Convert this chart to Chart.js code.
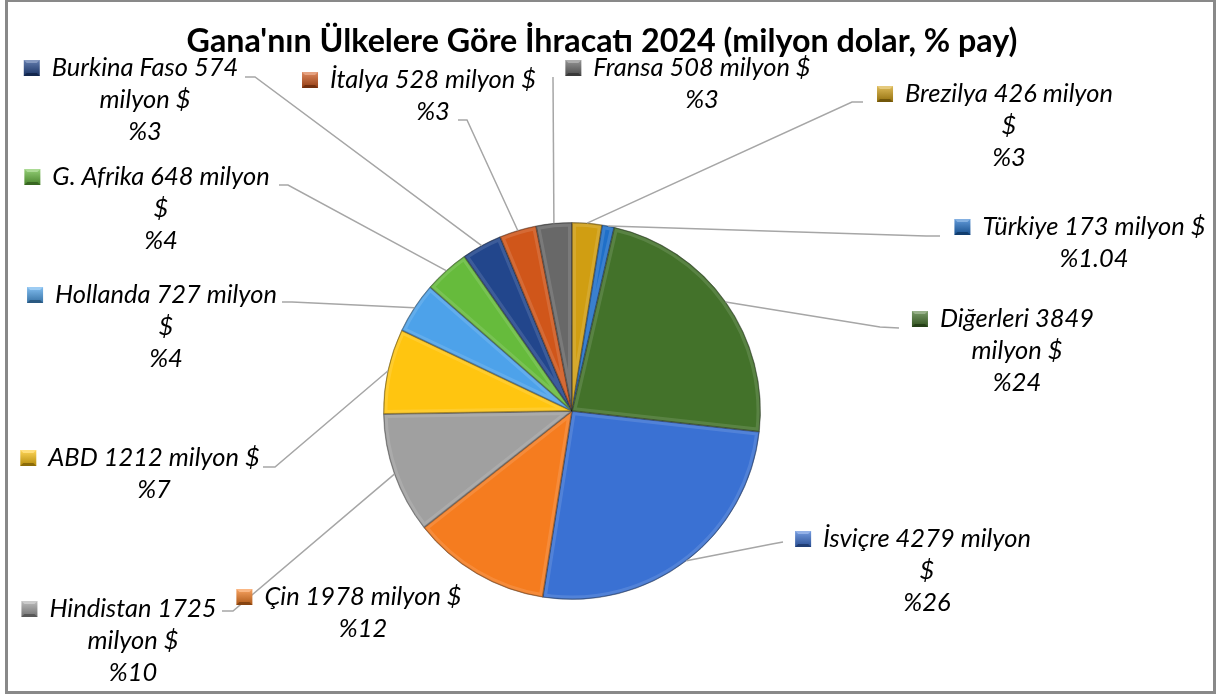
<!DOCTYPE html>
<html>
<head>
<meta charset="utf-8">
<script src="https://cdn.jsdelivr.net/npm/chart.js@4"></script>
<style>
  body { margin: 0; background: #fff; }
  #wrap { width: 1217px; height: 697px; position: relative; }
</style>
</head>
<body>
<div id="wrap"><canvas id="ihracat" width="1217" height="697"></canvas></div>
<script>
// data, in the order Excel draws the slices (clockwise)
const ulkeler = ["İsviçre", "Çin", "Hindistan", "ABD", "Hollanda", "G. Afrika",
  "Burkina Faso", "İtalya", "Fransa", "Brezilya", "Türkiye", "Diğerleri"];
const degerler = [4279, 1978, 1725, 1212, 727, 648, 574, 528, 508, 426, 173, 3849];
const paylar = ["%26", "%12", "%10", "%7", "%4", "%4", "%3", "%3", "%3", "%3", "%1.04", "%24"];
const renkler = ["#3A71D3", "#F57C1F", "#A0A0A0", "#FFC510", "#4DA2EA", "#66BB3C",
  "#22468C", "#D0561A", "#686868", "#D09E12", "#1F6FC8", "#43722A"];
const baslik = "Gana'nın Ülkelere Göre İhracatı 2024 (milyon dolar, % pay)";

// where each label sits: text centre x, first line centre y, words on first line,
// leader end near the label and the elbow
const etiketYeri = [
  { cx: 927, y: 539, split: 3, l: [783, 542], e: [772, 544] },
  { cx: 363, y: 597, split: 0, l: null, e: null },
  { cx: 133, y: 609, split: 2, l: [222, 611], e: [233, 611] },
  { cx: 154, y: 458, split: 0, l: [263, 467], e: [275, 467] },
  { cx: 166, y: 295, split: 3, l: [282, 302], e: [292, 302] },
  { cx: 161, y: 177, split: 4, l: [279, 185], e: [288, 185] },
  { cx: 145, y: 68, split: 3, l: [245, 77], e: [255, 77] },
  { cx: 433, y: 80, split: 0, l: [458, 120], e: [467, 120] },
  { cx: 702, y: 68, split: 0, l: [553, 77], e: [553, 77] },
  { cx: 1009, y: 94, split: 3, l: [863, 102], e: [852, 102] },
  { cx: 1094, y: 227, split: 0, l: [940, 236], e: [926, 236] },
  { cx: 1017, y: 319, split: 2, l: [899, 328], e: [880, 327] }
];

function fitSize(ctx, text, style, family, target) {
  ctx.font = style + " 100px " + family;
  return 100 * target / ctx.measureText(text).width;
}

function shade(hex, amt) {
  const n = parseInt(hex.slice(1), 16);
  let r = n >> 16, g = (n >> 8) & 255, b = n & 255;
  const f = v => Math.max(0, Math.min(255, Math.round(amt > 0 ? v + (255 - v) * amt : v * (1 + amt))));
  return "rgb(" + f(r) + "," + f(g) + "," + f(b) + ")";
}

// small bevelled legend key
function kare(ctx, x, y, s, col) {
  const g = ctx.createLinearGradient(0, y, 0, y + s);
  g.addColorStop(0, shade(col, 0.3));
  g.addColorStop(1, shade(col, -0.3));
  ctx.fillStyle = g;
  ctx.fillRect(x, y, s, s);
  ctx.fillStyle = shade(col, 0.45);
  ctx.beginPath(); ctx.moveTo(x, y); ctx.lineTo(x + s, y); ctx.lineTo(x + s - 3, y + 3); ctx.lineTo(x + 3, y + 3); ctx.fill();
  ctx.fillStyle = shade(col, -0.45);
  ctx.beginPath(); ctx.moveTo(x, y + s); ctx.lineTo(x + s, y + s); ctx.lineTo(x + s - 3, y + s - 3); ctx.lineTo(x + 3, y + s - 3); ctx.fill();
}

const bevel = {
  id: "bevel",
  afterDatasetsDraw(chart) {
    const ctx = chart.ctx;
    chart.getDatasetMeta(0).data.forEach(a => {
      const p = a.getProps(["x", "y", "startAngle", "endAngle", "outerRadius"], true);
      ctx.save();
      ctx.beginPath();
      ctx.moveTo(p.x, p.y);
      ctx.arc(p.x, p.y, p.outerRadius, p.startAngle, p.endAngle);
      ctx.closePath();
      ctx.clip();
      ctx.lineWidth = 8;
      ctx.strokeStyle = "rgba(255,255,255,0.12)";
      ctx.stroke();
      ctx.lineWidth = 2;
      ctx.strokeStyle = "rgba(0,0,0,0.22)";
      ctx.stroke();
      ctx.restore();
    });
  }
};

const etiketler = {
  id: "etiketler",
  afterDraw(chart) {
    const ctx = chart.ctx;
    const arcs = chart.getDatasetMeta(0).data;
    ctx.save();
    // frame
    ctx.strokeStyle = "#898989";
    ctx.lineWidth = 3;
    ctx.strokeRect(6.5, 0.5, 1208, 692);
    // title
    const ts = fitSize(ctx, baslik, "bold", "Lato", 831);
    ctx.font = "bold " + ts + "px Lato";
    ctx.fillStyle = "#000";
    ctx.textAlign = "center";
    ctx.textBaseline = "middle";
    ctx.fillText(baslik, 602, 42);
    // leader lines
    ctx.strokeStyle = "#A6A6A6";
    ctx.lineWidth = 1.5;
    arcs.forEach((a, i) => {
      const L = etiketYeri[i];
      if (!L.l) return;
      const p = a.getProps(["x", "y", "startAngle", "endAngle", "outerRadius"], true);
      const m = (p.startAngle + p.endAngle) / 2;
      ctx.beginPath();
      ctx.moveTo(L.l[0], L.l[1]);
      ctx.lineTo(L.e[0], L.e[1]);
      ctx.lineTo(p.x + p.outerRadius * Math.cos(m), p.y + p.outerRadius * Math.sin(m));
      ctx.stroke();
    });
    // labels
    const ls = fitSize(ctx, "Brezilya 426 milyon", "italic", "Lato", 208);
    ctx.font = "italic " + ls + "px Lato";
    ulkeler.forEach((u, i) => {
      const L = etiketYeri[i];
      const words = (u + " " + degerler[i] + " milyon $").split(" ");
      const lines = L.split ? [words.slice(0, L.split).join(" "), words.slice(L.split).join(" ")] : [words.join(" ")];
      lines.push(paylar[i]);
      ctx.fillStyle = "#000";
      lines.forEach((t, k) => ctx.fillText(t, L.cx, L.y + k * 32));
      const w = ctx.measureText(lines[0]).width;
      kare(ctx, L.cx - w / 2 - 28, L.y - 8, 16, renkler[i]);
    });
    ctx.restore();
  }
};

new Chart(document.getElementById("ihracat"), {
  type: "pie",
  data: {
    labels: ulkeler,
    datasets: [{
      data: degerler,
      backgroundColor: renkler,
      borderWidth: 1,
      borderColor: "rgba(0,0,0,0.3)"
    }]
  },
  options: {
    responsive: false,
    animation: false,
    rotation: 96.3,
    layout: { padding: { left: 383, right: 456, top: 222, bottom: 97 } },
    plugins: {
      legend: { display: false },
      tooltip: { enabled: false },
      title: { display: false }
    }
  },
  plugins: [bevel, etiketler]
});
</script>
</body>
</html>
